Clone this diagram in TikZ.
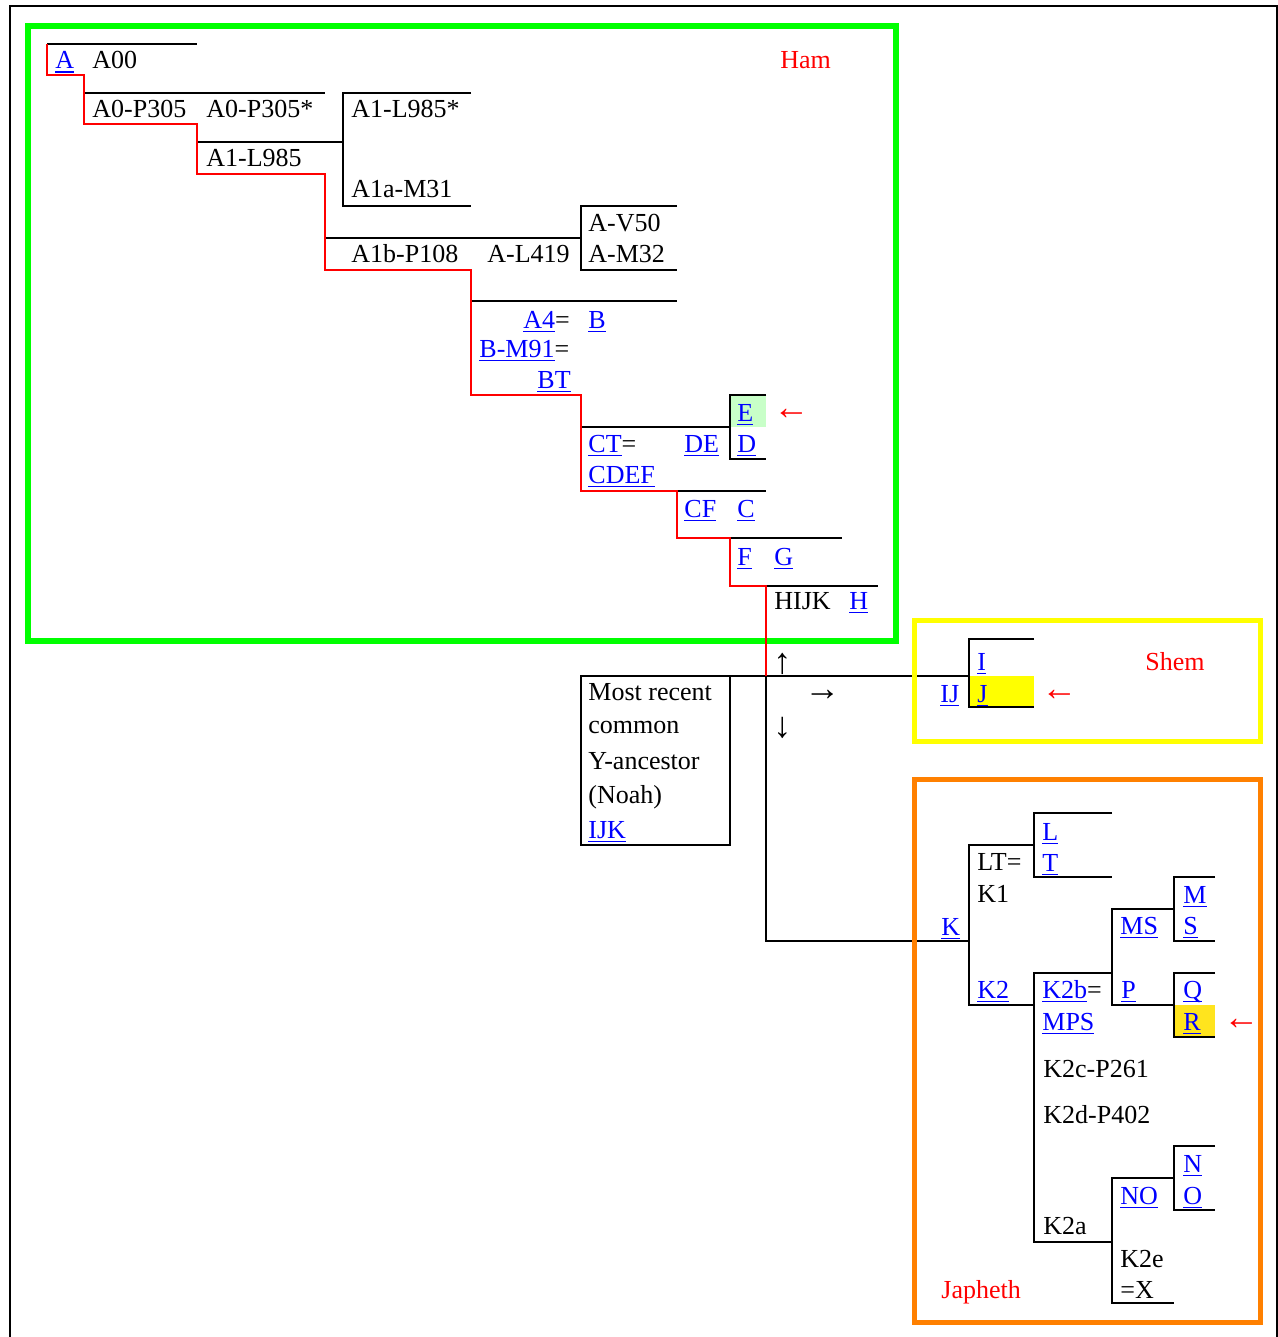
\documentclass[tikz,border=0pt]{standalone}
\usepackage{fontspec}
\setmainfont{Liberation Serif}
\definecolor{linkblue}{RGB}{0,0,255}
\definecolor{hamgreen}{RGB}{0,255,0}
\definecolor{shemyellow}{RGB}{255,255,0}
\definecolor{japhorange}{RGB}{255,128,0}
\definecolor{markred}{RGB}{255,0,0}
\definecolor{egreen}{RGB}{200,255,200}
\definecolor{rgold}{RGB}{255,228,30}
\newsavebox\lnkbox
\newcommand{\lnk}[1]{{\color{linkblue}\sbox\lnkbox{#1}\rlap{\rule[-2pt]{\wd\lnkbox}{0.75pt}}\usebox\lnkbox}}
% bracket: x, top y, bottom y, right end
\newcommand{\brkt}[4]{\draw[tree] (#4,#2) -- (#1,#2) -- (#1,#3) -- (#4,#3);}

\begin{document}
\begin{tikzpicture}[x=0.5pt, y=-0.5pt]
  \tikzset{lbl/.style={anchor=base west, inner sep=0pt, font=\fontsize{13pt}{15pt}\selectfont},
           redlbl/.style={lbl, text=markred},
           arr/.style={lbl, font=\fontsize{18pt}{20pt}\selectfont},
           redarr/.style={arr, text=markred},
           tree/.style={line width=0.9pt},
           line/.style={line width=0.9pt, markred}}
  \useasboundingbox (0,0) rectangle (1278,1337);

  % highlighted cells
  \fill[egreen] (731,395) rectangle (766,427);
  \fill[shemyellow] (970,676) rectangle (1034,707);
  \fill[rgold] (1175,1005) rectangle (1215,1037);

  % outer frame
  \draw[line width=1pt] (10,1337) -- (10,6) -- (1277,6) -- (1277,1337);

  % Ham tree
  \draw[tree] (47,44) -- (197,44);
  \draw[tree] (84,93) -- (325,93);
  \draw[tree] (197,142) -- (343,142);
  \brkt{343}{93}{206}{471}
  \draw[tree] (325,238) -- (581,238);
  \brkt{581}{206}{270}{677}
  \draw[tree] (471,301) -- (677,301);
  \draw[tree] (581,427) -- (730,427);
  \brkt{730}{395}{459}{766}
  \draw[tree] (677,491) -- (766,491);
  \draw[tree] (730,538) -- (842,538);
  \draw[tree] (766,586) -- (878,586);

  % root and the two other branches
  \draw[tree] (581,676) -- (969,676);
  \draw[tree] (581,676) rectangle (730,845);
  \draw[tree] (766,676) -- (766,941) -- (969,941);
  \brkt{969}{639}{707}{1034}

  % Japheth tree
  \brkt{969}{845}{1005}{1034}
  \brkt{1034}{813}{877}{1112}
  \brkt{1034}{973}{1242}{1112}
  \brkt{1112}{909}{1005}{1174}
  \brkt{1174}{877}{941}{1215}
  \brkt{1174}{973}{1037}{1215}
  \brkt{1112}{1178}{1303}{1174}
  \brkt{1174}{1146}{1210}{1215}

  % group boxes
  \draw[hamgreen, line width=3pt] (28,26) rectangle (896,641);
  \draw[shemyellow, line width=2.5pt] (914,620) rectangle (1260,741);
  \draw[japhorange, line width=2.5pt] (914,779) rectangle (1260,1322);

  % line of descent
  \draw[line] (47,44) -- (47,75) -- (84,75) -- (84,124) -- (197,124) -- (197,174)
    -- (325,174) -- (325,270) -- (471,270) -- (471,395) -- (581,395) -- (581,491)
    -- (677,491) -- (677,538) -- (730,538) -- (730,586) -- (766,586) -- (766,676);

  % Ham labels
  \node[lbl] (a) at (55,69) {\lnk{A}};
  \node[lbl] (a00) at (92,69) {A00};
  \node[redlbl] (ham) at (780,69) {Ham};
  \node[lbl] (a0p305) at (92,118) {A0-P305};
  \node[lbl] (a0p305s) at (206,118) {A0-P305*};
  \node[lbl] (a1l985s) at (351,118) {A1-L985*};
  \node[lbl] (a1l985) at (206,167) {A1-L985};
  \node[lbl] (a1am31) at (351,198) {A1a-M31};
  \node[lbl] (av50) at (588,232) {A-V50};
  \node[lbl] (a1bp108) at (351,263) {A1b-P108};
  \node[lbl] (al419) at (487,263) {A-L419};
  \node[lbl] (am32) at (588,263) {A-M32};
  \node[lbl] (a4) at (523,328) {\lnk{A4}=};
  \node[lbl] (b) at (588,328) {\lnk{B}};
  \node[lbl] (bm91) at (479,357) {\lnk{B-M91}=};
  \node[lbl] (bt) at (537,388) {\lnk{BT}};
  \node[lbl] (e) at (737,421) {\lnk{E}};
  \node[redarr] (earrow) at (773,419) {←};
  \node[lbl] (ct) at (588,452) {\lnk{CT}=};
  \node[lbl] (de) at (684,452) {\lnk{DE}};
  \node[lbl] (d) at (737,452) {\lnk{D}};
  \node[lbl] (cdef) at (588,483) {\lnk{CDEF}};
  \node[lbl] (cf) at (684,517) {\lnk{CF}};
  \node[lbl] (c) at (737,517) {\lnk{C}};
  \node[lbl] (f) at (737,565) {\lnk{F}};
  \node[lbl] (g) at (774,565) {\lnk{G}};
  \node[lbl] (hijk) at (774,609) {HIJK};
  \node[lbl] (h) at (849,609) {\lnk{H}};

  % root labels
  \node[arr] (up) at (773,673) {↑};
  \node[arr] (right) at (804,700) {→};
  \node[arr] (down) at (773,737) {↓};
  \node[lbl] (most) at (588,700) {Most recent};
  \node[lbl] (common) at (588,733) {common};
  \node[lbl] (yanc) at (588,769) {Y-ancestor};
  \node[lbl] (noah) at (588,803) {(Noah)};
  \node[lbl] (ijk) at (588,838) {\lnk{IJK}};

  % Shem labels
  \node[lbl] (ij) at (940,702) {\lnk{IJ}};
  \node[lbl] (i) at (977,670) {\lnk{I}};
  \node[lbl] (j) at (977,702) {\lnk{J}};
  \node[redarr] (jarrow) at (1041,700) {←};
  \node[redlbl] (shem) at (1145,670) {Shem};

  % Japheth labels
  \node[lbl] (k) at (941,935) {\lnk{K}};
  \node[lbl] (lt) at (977,870) {LT=};
  \node[lbl] (k1) at (977,902) {K1};
  \node[lbl] (l) at (1042,840) {\lnk{L}};
  \node[lbl] (t) at (1042,871) {\lnk{T}};
  \node[lbl] (m) at (1183,903) {\lnk{M}};
  \node[lbl] (s) at (1183,934) {\lnk{S}};
  \node[lbl] (ms) at (1120,934) {\lnk{MS}};
  \node[lbl] (k2) at (977,998) {\lnk{K2}};
  \node[lbl] (k2b) at (1042,998) {\lnk{K2b}=};
  \node[lbl] (p) at (1121,998) {\lnk{P}};
  \node[lbl] (q) at (1183,998) {\lnk{Q}};
  \node[lbl] (r) at (1183,1030) {\lnk{R}};
  \node[lbl] (mps) at (1042,1030) {\lnk{MPS}};
  \node[redarr] (rarrow) at (1223,1029) {←};
  \node[lbl] (k2c) at (1043,1077) {K2c-P261};
  \node[lbl] (k2d) at (1043,1123) {K2d-P402};
  \node[lbl] (n) at (1183,1172) {\lnk{N}};
  \node[lbl] (o) at (1183,1204) {\lnk{O}};
  \node[lbl] (no) at (1120,1204) {\lnk{NO}};
  \node[lbl] (k2a) at (1043,1234) {K2a};
  \node[lbl] (k2e) at (1120,1267) {K2e};
  \node[lbl] (x) at (1120,1298) {=X};
  \node[redlbl] (japheth) at (941,1298) {Japheth};
\end{tikzpicture}
\end{document}
